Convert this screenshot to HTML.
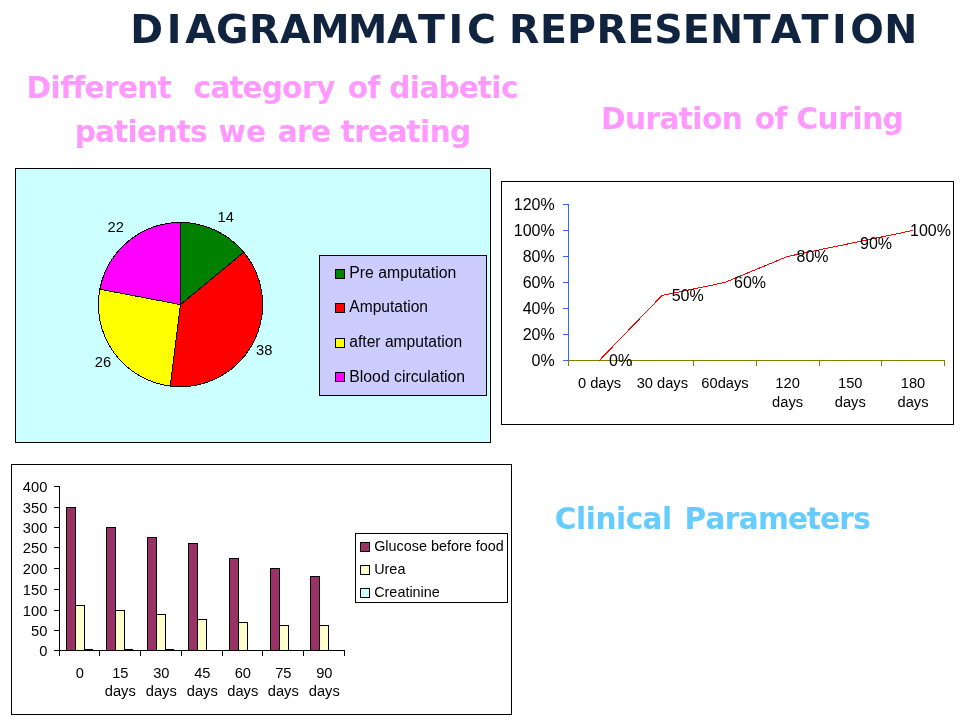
<!DOCTYPE html>
<html lang="en"><head><meta charset="utf-8"><title>Diagrammatic Representation</title>
<style>
html,body{margin:0;padding:0;background:#fff;}
body{width:960px;height:720px;overflow:hidden;position:relative;}
svg{position:absolute;left:0;top:0;display:block;}
text{white-space:pre;}
.h{font-family:"DejaVu Sans","Liberation Sans",sans-serif;font-weight:bold;}
.a{font-family:"Liberation Sans",sans-serif;fill:#000;}
</style></head><body>
<svg width="960" height="720" viewBox="0 0 960 720">

<text class="h" x="130.2 166.8 185.3 216.1 249.0 280.1 310.2 348.1 387.0 417.9 448.6 466.9 495.0 509.0 539.9 567.1 596.5 627.3 654.3 682.7 710.1 743.5 770.7 801.5 832.0 850.3 884.3" y="42.75" font-size="39.5" fill="#10243f">DIAGRAMMATIC REPRESENTATION</text>
<text class="h" x="26.5 50.6 60.3 72.4 84.5 103.9 117.9 137.2 157.5 171.1 184.0 193.5 210.4 229.5 242.6 261.7 282.1 302.0 316.2 338.1 347.7 367.4 380.0 389.3 409.8 419.4 438.5 458.7 477.8 491.3 501.0" y="97.8" font-size="29.6" fill="#ff99ff">Different  category of diabetic</text>
<text class="h" x="74.7 94.9 114.0 127.5 137.1 156.4 176.7 190.0 208.3 218.6 245.9 268.2 277.7 297.1 311.1 331.4 340.7 354.2 368.2 387.4 406.5 420.0 429.7 450.0" y="141.5" font-size="29.6" fill="#ff99ff">patients we are treating</text>
<text class="h" x="600.9 624.9 645.5 659.6 678.7 692.2 701.9 721.7 745.2 754.8 774.5 787.2 796.6 817.6 838.3 852.6 862.3 882.6" y="129" font-size="29.6" fill="#ff99ff">Duration of Curing</text>
<text class="h" x="554.7 575.9 585.7 595.4 616.1 625.8 642.6 662.1 675.0 684.5 705.4 724.7 738.7 757.9 787.9 806.8 819.9 839.2 853.2" y="528.8" font-size="29.6" fill="#66ccff">Clinical Parameters</text>
<rect x="15.5" y="168.5" width="475" height="274" fill="#ccffff" stroke="#000" stroke-width="1" shape-rendering="crispEdges"/>
<g stroke="#000" stroke-width="1" stroke-linejoin="round" shape-rendering="crispEdges">
<path d="M180.5 304.6L180.50 222.50A82.1 82.1 0 0 1 243.76 252.27Z" fill="#008000"/>
<path d="M180.5 304.6L243.76 252.27A82.1 82.1 0 0 1 170.21 386.05Z" fill="#ff0000"/>
<path d="M180.5 304.6L170.21 386.05A82.1 82.1 0 0 1 99.85 289.22Z" fill="#ffff00"/>
<path d="M180.5 304.6L99.85 289.22A82.1 82.1 0 0 1 180.50 222.50Z" fill="#ff00ff"/>
</g>
<text class="a" x="217.6" y="222" font-size="14.67" text-anchor="start">14</text>
<text class="a" x="256.1" y="355" font-size="14.67" text-anchor="start">38</text>
<text class="a" x="94.8" y="367" font-size="14.67" text-anchor="start">26</text>
<text class="a" x="107.5" y="232" font-size="14.67" text-anchor="start">22</text>
<rect x="319.5" y="255.5" width="167" height="140" fill="#ccccff" stroke="#000" shape-rendering="crispEdges"/>
<rect x="335.5" y="269.5" width="9" height="9" fill="#008000" stroke="#000" shape-rendering="crispEdges"/>
<text class="a" x="349.3" y="278.4" font-size="16" text-anchor="start" textLength="107.0" lengthAdjust="spacingAndGlyphs">Pre amputation</text>
<rect x="335.5" y="303.5" width="9" height="9" fill="#ff0000" stroke="#000" shape-rendering="crispEdges"/>
<text class="a" x="349.3" y="312.3" font-size="16" text-anchor="start" textLength="78.7" lengthAdjust="spacingAndGlyphs">Amputation</text>
<rect x="335.5" y="338.5" width="9" height="9" fill="#ffff00" stroke="#000" shape-rendering="crispEdges"/>
<text class="a" x="349.3" y="347.3" font-size="16" text-anchor="start" textLength="112.89999999999999" lengthAdjust="spacingAndGlyphs">after amputation</text>
<rect x="335.5" y="372.5" width="9" height="9" fill="#ff00ff" stroke="#000" shape-rendering="crispEdges"/>
<text class="a" x="349.3" y="381.6" font-size="16" text-anchor="start" textLength="115.8" lengthAdjust="spacingAndGlyphs">Blood circulation</text>
<rect x="501.5" y="181.5" width="452" height="243" fill="#fff" stroke="#000" shape-rendering="crispEdges"/>
<g shape-rendering="crispEdges" fill="none">
<path d="M568.5 204V361" stroke="#3366ff"/>
<path d="M563 360.5H569" stroke="#3366ff"/>
<path d="M563 334.5H569" stroke="#3366ff"/>
<path d="M563 308.5H569" stroke="#3366ff"/>
<path d="M563 282.5H569" stroke="#3366ff"/>
<path d="M563 256.5H569" stroke="#3366ff"/>
<path d="M563 230.5H569" stroke="#3366ff"/>
<path d="M563 204.5H569" stroke="#3366ff"/>
<path d="M568 360.5H945" stroke="#808000"/>
<path d="M568.5 360V366" stroke="#808000"/>
<path d="M631.5 360V366" stroke="#808000"/>
<path d="M693.5 360V366" stroke="#808000"/>
<path d="M756.5 360V366" stroke="#808000"/>
<path d="M819.5 360V366" stroke="#808000"/>
<path d="M881.5 360V366" stroke="#808000"/>
<path d="M944.5 360V366" stroke="#808000"/>
</g>
<text class="a" x="554.7" y="365.75" font-size="16" text-anchor="end">0%</text>
<text class="a" x="554.7" y="339.75" font-size="16" text-anchor="end">20%</text>
<text class="a" x="554.7" y="313.75" font-size="16" text-anchor="end">40%</text>
<text class="a" x="554.7" y="287.75" font-size="16" text-anchor="end">60%</text>
<text class="a" x="554.7" y="261.75" font-size="16" text-anchor="end">80%</text>
<text class="a" x="554.7" y="235.75" font-size="16" text-anchor="end">100%</text>
<text class="a" x="554.7" y="209.75" font-size="16" text-anchor="end">120%</text>
<polyline fill="none" stroke="#ff0000" stroke-width="1" shape-rendering="crispEdges" points="599.3,360.5 662.0,295.5 724.7,282.5 787.3,256.5 850.0,243.5 912.7,230.5"/>
<text class="a" x="609" y="365.8" font-size="16" text-anchor="start">0%</text>
<text class="a" x="671.7" y="300.8" font-size="16" text-anchor="start">50%</text>
<text class="a" x="734" y="287.8" font-size="16" text-anchor="start">60%</text>
<text class="a" x="796.5" y="261.8" font-size="16" text-anchor="start">80%</text>
<text class="a" x="860" y="248.8" font-size="16" text-anchor="start">90%</text>
<text class="a" x="910" y="235.8" font-size="16" text-anchor="start">100%</text>
<text class="a" x="599.6" y="387.5" font-size="14.67" text-anchor="middle">0 days</text>
<text class="a" x="662.3" y="387.5" font-size="14.67" text-anchor="middle">30 days</text>
<text class="a" x="725.0" y="387.5" font-size="14.67" text-anchor="middle">60days</text>
<text class="a" x="787.6" y="387.5" font-size="14.67" text-anchor="middle">120</text>
<text class="a" x="787.6" y="406.5" font-size="14.67" text-anchor="middle">days</text>
<text class="a" x="850.3" y="387.5" font-size="14.67" text-anchor="middle">150</text>
<text class="a" x="850.3" y="406.5" font-size="14.67" text-anchor="middle">days</text>
<text class="a" x="913.0" y="387.5" font-size="14.67" text-anchor="middle">180</text>
<text class="a" x="913.0" y="406.5" font-size="14.67" text-anchor="middle">days</text>
<rect x="11.5" y="464.5" width="500" height="250" fill="#fff" stroke="#000" shape-rendering="crispEdges"/>
<g shape-rendering="crispEdges" fill="none" stroke="#000">
<path d="M59.5 486V651"/>
<path d="M54 650.5H60"/>
<path d="M54 630.5H60"/>
<path d="M54 610.5H60"/>
<path d="M54 589.5H60"/>
<path d="M54 568.5H60"/>
<path d="M54 547.5H60"/>
<path d="M54 527.5H60"/>
<path d="M54 507.5H60"/>
<path d="M54 486.5H60"/>
<path d="M59 650.5H345"/>
<path d="M59.5 650V656"/>
<path d="M99.5 650V656"/>
<path d="M140.5 650V656"/>
<path d="M181.5 650V656"/>
<path d="M222.5 650V656"/>
<path d="M262.5 650V656"/>
<path d="M303.5 650V656"/>
<path d="M344.5 650V656"/>
</g>
<text class="a" x="47.3" y="655.6" font-size="14.67" text-anchor="end">0</text>
<text class="a" x="47.3" y="635.6" font-size="14.67" text-anchor="end">50</text>
<text class="a" x="47.3" y="615.6" font-size="14.67" text-anchor="end">100</text>
<text class="a" x="47.3" y="594.6" font-size="14.67" text-anchor="end">150</text>
<text class="a" x="47.3" y="573.6" font-size="14.67" text-anchor="end">200</text>
<text class="a" x="47.3" y="552.6" font-size="14.67" text-anchor="end">250</text>
<text class="a" x="47.3" y="532.6" font-size="14.67" text-anchor="end">300</text>
<text class="a" x="47.3" y="512.6" font-size="14.67" text-anchor="end">350</text>
<text class="a" x="47.3" y="491.6" font-size="14.67" text-anchor="end">400</text>
<g shape-rendering="crispEdges" stroke="#000">
<rect x="66.5" y="507.5" width="9" height="143" fill="#993366"/>
<rect x="75.5" y="605.5" width="9" height="45" fill="#ffffcc"/>
<path d="M84 649.5H93" fill="none"/>
<rect x="106.5" y="527.5" width="9" height="123" fill="#993366"/>
<rect x="115.5" y="610.5" width="9" height="40" fill="#ffffcc"/>
<path d="M124 649.5H133" fill="none"/>
<rect x="147.5" y="537.5" width="9" height="113" fill="#993366"/>
<rect x="156.5" y="614.5" width="9" height="36" fill="#ffffcc"/>
<path d="M165 649.5H174" fill="none"/>
<rect x="188.5" y="543.5" width="9" height="107" fill="#993366"/>
<rect x="197.5" y="619.5" width="9" height="31" fill="#ffffcc"/>
<rect x="229.5" y="558.5" width="9" height="92" fill="#993366"/>
<rect x="238.5" y="622.5" width="9" height="28" fill="#ffffcc"/>
<rect x="270.5" y="568.5" width="9" height="82" fill="#993366"/>
<rect x="279.5" y="625.5" width="9" height="25" fill="#ffffcc"/>
<rect x="310.5" y="576.5" width="9" height="74" fill="#993366"/>
<rect x="319.5" y="625.5" width="9" height="25" fill="#ffffcc"/>
</g>
<text class="a" x="79.8" y="677.5" font-size="14.67" text-anchor="middle">0</text>
<text class="a" x="120.3" y="677.5" font-size="14.67" text-anchor="middle">15</text>
<text class="a" x="120.3" y="696.4" font-size="14.67" text-anchor="middle">days</text>
<text class="a" x="161.3" y="677.5" font-size="14.67" text-anchor="middle">30</text>
<text class="a" x="161.3" y="696.4" font-size="14.67" text-anchor="middle">days</text>
<text class="a" x="202.3" y="677.5" font-size="14.67" text-anchor="middle">45</text>
<text class="a" x="202.3" y="696.4" font-size="14.67" text-anchor="middle">days</text>
<text class="a" x="242.8" y="677.5" font-size="14.67" text-anchor="middle">60</text>
<text class="a" x="242.8" y="696.4" font-size="14.67" text-anchor="middle">days</text>
<text class="a" x="283.3" y="677.5" font-size="14.67" text-anchor="middle">75</text>
<text class="a" x="283.3" y="696.4" font-size="14.67" text-anchor="middle">days</text>
<text class="a" x="324.3" y="677.5" font-size="14.67" text-anchor="middle">90</text>
<text class="a" x="324.3" y="696.4" font-size="14.67" text-anchor="middle">days</text>
<rect x="355.5" y="533.5" width="152" height="69" fill="#fff" stroke="#000" shape-rendering="crispEdges"/>
<rect x="360.5" y="542.5" width="9" height="9" fill="#993366" stroke="#000" shape-rendering="crispEdges"/>
<text class="a" x="374.2" y="551.2" font-size="14.4" text-anchor="start" textLength="129.5" lengthAdjust="spacingAndGlyphs">Glucose before food</text>
<rect x="360.5" y="565.5" width="9" height="9" fill="#ffffcc" stroke="#000" shape-rendering="crispEdges"/>
<text class="a" x="374.2" y="574.2" font-size="14.4" text-anchor="start">Urea</text>
<rect x="360.5" y="588.5" width="9" height="9" fill="#ccffff" stroke="#000" shape-rendering="crispEdges"/>
<text class="a" x="374.2" y="597.2" font-size="14.4" text-anchor="start">Creatinine</text>
</svg></body></html>
